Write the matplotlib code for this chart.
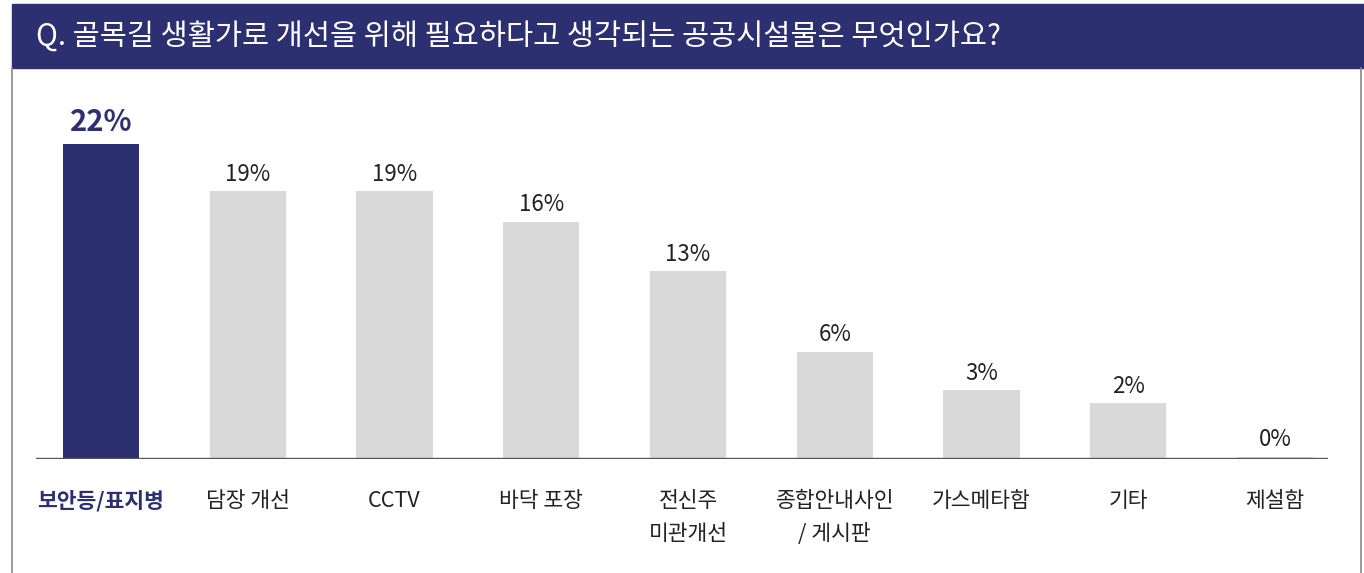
import matplotlib
matplotlib.use("Agg")
import matplotlib.pyplot as plt
from matplotlib.patches import Rectangle
from matplotlib.lines import Line2D

plt.rcParams['font.family'] = ['Noto Sans CJK KR', 'DejaVu Sans']

# === DATA ===
TITLE = "Q. 골목길 생활가로 개선을 위해 필요하다고 생각되는 공공시설물은 무엇인가요?"
categories = ["보안등/표지병", "담장 개선", "CCTV", "바닥 포장", "전신주\n미관개선",
              "종합안내사인\n/ 게시판", "가스메타함", "기타", "제설함"]
value_labels = ["22%", "19%", "19%", "16%", "13%", "6%", "3%", "2%", "0%"]
# bar heights as drawn in the picture (percent scale)
bar_heights = [22.0, 18.7, 18.7, 16.55, 13.1, 7.5, 4.8, 3.9, 0.15]

NAVY = "#2c3070"
GRAY_BAR = "#d9d9d9"
TEXT = "#222222"

W, H = 1364, 573
fig = plt.figure(figsize=(W / 100, H / 100), dpi=100)
fig.patch.set_facecolor("white")

# --- frame and title bar ---
fig.add_artist(Rectangle((12 / W, 1 - 68 / H), (W - 12) / W, 64 / H,
                         transform=fig.transFigure, color=NAVY, zorder=0))
fig.add_artist(Line2D([12 / W, 12 / W], [0, 1 - 68 / H], transform=fig.transFigure,
                      color="#888888", linewidth=1.2))
fig.add_artist(Line2D([1361 / W, 1361 / W], [0, 1 - 68 / H], transform=fig.transFigure,
                      color="#888888", linewidth=1.2))
fig.text(36 / W, 1 - 37 / H, TITLE, color="white", fontsize=21.2,
         ha="left", va="center")

# --- bar panel ---
ax = fig.add_axes([36 / W, 1 - 459 / H, (1328 - 36) / W, (459 - 100) / H])
x = list(range(len(categories)))
colors = [NAVY] + [GRAY_BAR] * (len(categories) - 1)
ax.bar(x, bar_heights, width=0.52, color=colors, zorder=2)
ax.set_xlim(-0.443, 8.361)
ax.set_ylim(0, 25.07)
ax.axhline(0, color="#555555", linewidth=2.4, zorder=3)

for i, (h, lab) in enumerate(zip(bar_heights, value_labels)):
    if i == 0:
        ax.annotate(lab, (i, h), xytext=(0, 5), textcoords="offset points",
                    ha="center", va="bottom", fontsize=21, fontweight="bold", color=NAVY)
    else:
        ax.annotate(lab, (i, h), xytext=(0, 4), textcoords="offset points",
                    ha="center", va="bottom", fontsize=16, color=TEXT)

ax.set_xticks(x)
ax.set_xticklabels(categories, fontsize=15.5, color=TEXT, linespacing=1.65)
ax.tick_params(axis="x", length=0, pad=22)
ax.get_xticklabels()[0].set_color(NAVY)
ax.get_xticklabels()[0].set_fontweight("bold")
for lbl in ax.get_xticklabels():
    lbl.set_verticalalignment("top")

ax.set_yticks([])
for s in ax.spines.values():
    s.set_visible(False)

fig.savefig("out.png", dpi=100, facecolor="white")
